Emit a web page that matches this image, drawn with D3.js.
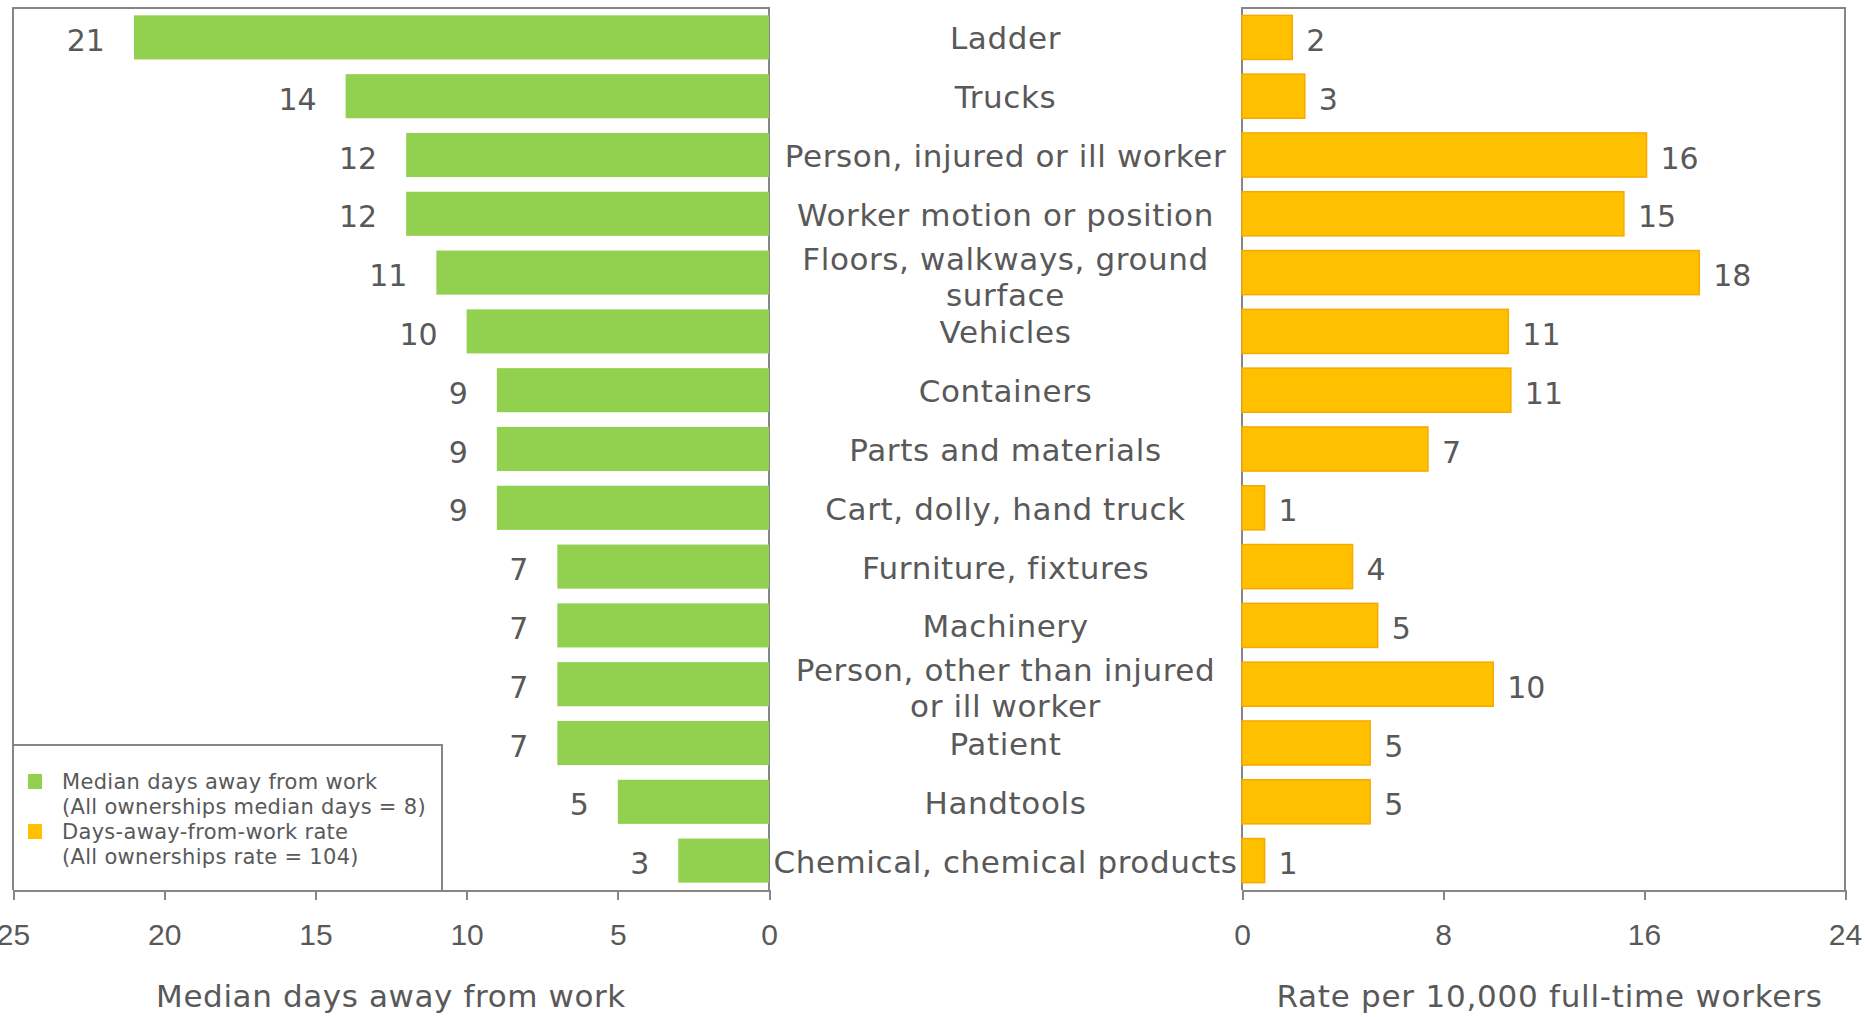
<!DOCTYPE html>
<html>
<head>
<meta charset="utf-8">
<title>Median days away from work and rate by source</title>
<script src="https://cdn.jsdelivr.net/npm/d3@7"></script>
<style>
  html, body { margin: 0; background: #fff; }
  svg { display: block; font-family: "DejaVu Sans", Verdana, sans-serif; }
  .axis path, .axis line { stroke: #868686; stroke-width: 2; shape-rendering: crispEdges; }
  .axis text { fill: #595959; font-size: 30px; }
  .frame { fill: none; stroke: #868686; stroke-width: 2; shape-rendering: crispEdges; }
  .lbl { fill: #595959; }
</style>
</head>
<body>
<svg width="1865" height="1017"></svg>
<script>
// data, top to bottom
var categories = [
  "Ladder", "Trucks", "Person, injured or ill worker", "Worker motion or position",
  "Floors, walkways, ground\nsurface", "Vehicles", "Containers", "Parts and materials",
  "Cart, dolly, hand truck", "Furniture, fixtures", "Machinery",
  "Person, other than injured\nor ill worker", "Patient", "Handtools",
  "Chemical, chemical products"
];
var medianDays = [21, 14, 12, 12, 11, 10, 9, 9, 9, 7, 7, 7, 7, 5, 3];
var rates = [2.0, 2.5, 16.1, 15.2, 18.2, 10.6, 10.7, 7.4, 0.9, 4.4, 5.4, 10.0, 5.1, 5.1, 0.9];
var daysTicks = [25, 20, 15, 10, 5, 0];
var rateTicks = [0, 8, 16, 24];
var legendItems = [
  {color: "#92D050", lines: ["Median days away from work", "(All ownerships median days = 8)"]},
  {color: "#FFC000", lines: ["Days-away-from-work rate", "(All ownerships rate = 104)"]}
];

var svg = d3.select("svg");
var top0 = 8, axisY = 890;

var y = d3.scaleBand().domain(categories).range([top0, axisY]).paddingInner(0.25).paddingOuter(0.125);
var xL = d3.scaleLinear().domain([25, 0]).range([13, 769]);
var xR = d3.scaleLinear().domain([0, 24]).range([1242, 1845]);

var rows = categories.map(function(c, i) { return {cat: c, days: medianDays[i], rate: rates[i]}; });

// panel frames
svg.append("path").attr("class", "frame")
  .attr("d", "M" + xL.range()[0] + "," + axisY + "V" + top0 + "H" + xL.range()[1] + "V" + axisY);
svg.append("path").attr("class", "frame")
  .attr("d", "M" + xR.range()[0] + "," + axisY + "V" + top0 + "H" + xR.range()[1] + "V" + axisY);

// left bars
svg.append("g").selectAll("rect").data(rows).enter().append("rect")
  .attr("x", function(d) { return xL(d.days); })
  .attr("y", function(d) { return y(d.cat); })
  .attr("width", function(d) { return xL(0) - xL(d.days); })
  .attr("height", y.bandwidth())
  .attr("fill", "#92D050");

svg.append("g").selectAll("text").data(rows).enter().append("text")
  .attr("class", "lbl")
  .attr("x", function(d) { return xL(d.days) - 29; })
  .attr("y", function(d) { return y(d.cat) + y.bandwidth() / 2 + 3; })
  .attr("text-anchor", "end")
  .attr("dominant-baseline", "central")
  .style("font-size", "30px")
  .text(function(d) { return d.days; });

// right bars
svg.append("g").selectAll("rect").data(rows).enter().append("rect")
  .attr("x", xR(0))
  .attr("y", function(d) { return y(d.cat); })
  .attr("width", function(d) { return xR(d.rate) - xR(0); })
  .attr("height", y.bandwidth())
  .attr("fill", "#FFC000")
  .attr("stroke", "#F7A900")
  .attr("stroke-width", 1.5);

svg.append("g").selectAll("text").data(rows).enter().append("text")
  .attr("class", "lbl")
  .attr("x", function(d) { return xR(d.rate) + 14; })
  .attr("y", function(d) { return y(d.cat) + y.bandwidth() / 2 + 3; })
  .attr("dominant-baseline", "central")
  .style("font-size", "30px")
  .text(function(d) { return Math.round(d.rate); });

// category labels in the middle
var midX = (xL(0) + xR(0)) / 2;
var catText = svg.append("g").selectAll("text").data(rows).enter().append("text")
  .attr("class", "lbl")
  .attr("text-anchor", "middle")
  .style("font-size", "31px")
  .style("letter-spacing", "0.6px")
  .attr("transform", function(d) {
    var n = d.cat.split("\n").length;
    return "translate(" + midX + "," + (y(d.cat) + y.bandwidth() / 2 + 1 - (n - 1) * 15) + ")";
  });
catText.selectAll("tspan").data(function(d) { return d.cat.split("\n"); }).enter().append("tspan")
  .attr("x", 0)
  .attr("y", function(d, i) { return i * 36; })
  .attr("dominant-baseline", "central")
  .text(function(d) { return d; });

// axes
svg.append("g").attr("class", "axis")
  .attr("transform", "translate(0," + axisY + ")")
  .call(d3.axisBottom(xL).tickValues(daysTicks).tickSize(10).tickSizeOuter(0).tickPadding(24));
svg.append("g").attr("class", "axis")
  .attr("transform", "translate(0," + axisY + ")")
  .call(d3.axisBottom(xR).tickValues(rateTicks).tickSize(10).tickSizeOuter(0).tickPadding(24));

svg.append("text").attr("class", "lbl")
  .attr("x", (xL.range()[0] + xL.range()[1]) / 2).attr("y", 996)
  .attr("text-anchor", "middle").attr("dominant-baseline", "central")
  .style("font-size", "31px").style("letter-spacing", "0.6px")
  .text("Median days away from work");
svg.append("text").attr("class", "lbl")
  .attr("x", (xR.range()[0] + xR.range()[1]) / 2 + 6).attr("y", 996)
  .attr("text-anchor", "middle").attr("dominant-baseline", "central")
  .style("font-size", "31px").style("letter-spacing", "0.75px")
  .text("Rate per 10,000 full-time workers");

// legend
var lg = svg.append("g");
lg.append("path").attr("class", "frame")
  .attr("d", "M13,745H442V" + axisY);
legendItems.forEach(function(item, i) {
  var cy = 782 + i * 50;
  lg.append("rect").attr("x", 28).attr("y", cy - 8).attr("width", 14).attr("height", 15).attr("fill", item.color);
  item.lines.forEach(function(t, j) {
    lg.append("text").attr("class", "lbl")
      .attr("x", 62).attr("y", cy + j * 25)
      .attr("dominant-baseline", "central")
      .style("font-size", "21px").style("letter-spacing", "0.3px")
      .text(t);
  });
});
</script>
</body>
</html>
